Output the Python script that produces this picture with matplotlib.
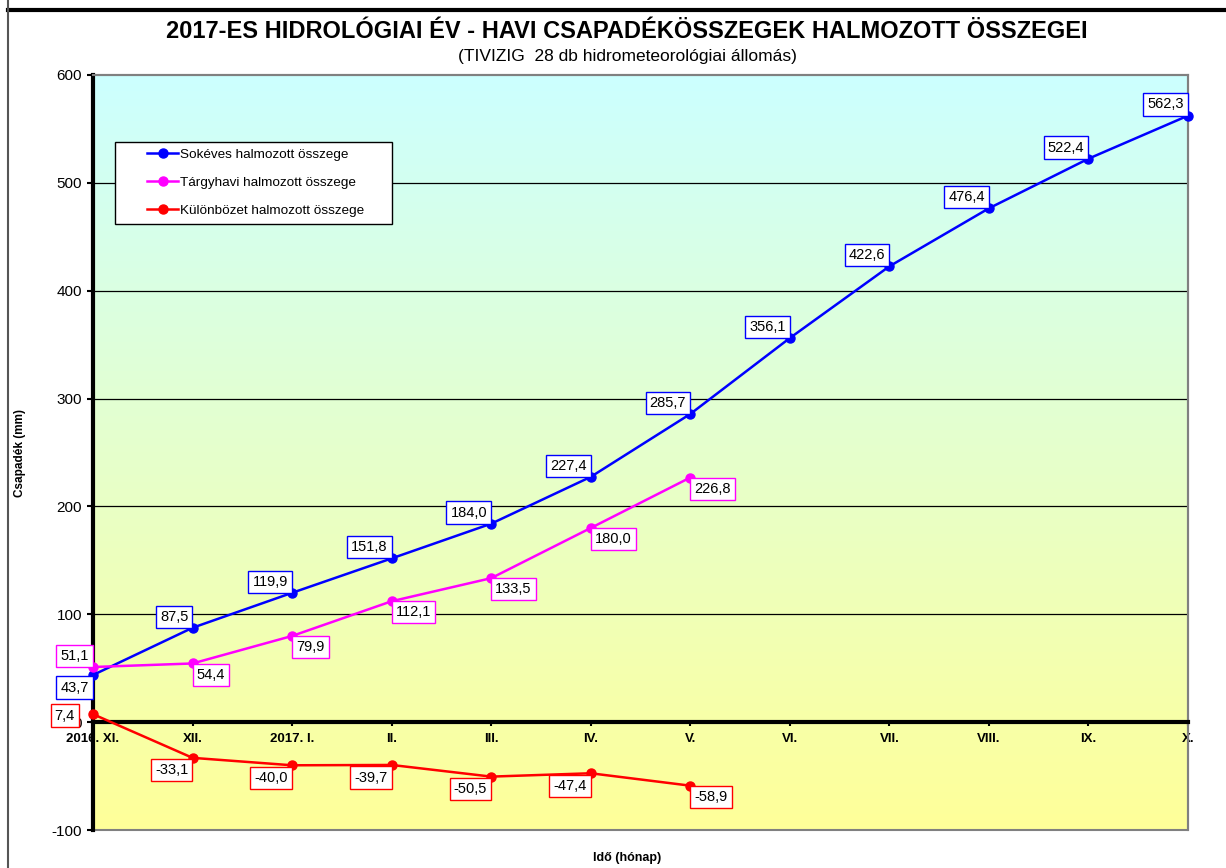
import numpy as np
import matplotlib
matplotlib.use("Agg")
import matplotlib.pyplot as plt
from matplotlib.lines import Line2D
from matplotlib.patches import Rectangle
from matplotlib.legend_handler import HandlerLine2D

plt.rcParams['font.family'] = ['Liberation Sans', 'DejaVu Sans']

months = ['2016. XI.', 'XII.', '2017. I.', 'II.', 'III.', 'IV.', 'V.',
          'VI.', 'VII.', 'VIII.', 'IX.', 'X.']
sokeves = [43.7, 87.5, 119.9, 151.8, 184.0, 227.4, 285.7, 356.1, 422.6, 476.4, 522.4, 562.3]
targyhavi = [51.1, 54.4, 79.9, 112.1, 133.5, 180.0, 226.8]
kulonbozet = [7.4, -33.1, -40.0, -39.7, -50.5, -47.4, -58.9]
yticks = [-100, 0, 100, 200, 300, 400, 500, 600]

# label placement per point: (dx, dy, ha, va)
above_left = (-3, 3, 'right', 'bottom')
below_left = (-3, -4, 'right', 'top')
below_right = (3, -3, 'left', 'top')
blue_pos = [below_left] + [above_left] * 11
pink_pos = [above_left] + [below_right] * 6
red_pos = [(-13, -1, 'right', 'center')] + [below_left] * 5 + [below_right]


def fmt(v):
    return f"{v:.1f}".replace('.', ',')


fig = plt.figure(figsize=(12.26, 8.68), dpi=100)
ax = fig.add_axes([93 / 1226, 38 / 868, 1095 / 1226, 755 / 868])

x_all = np.arange(len(months))
ax.set_xlim(0, len(months) - 1)
ax.set_ylim(-100, 600)

# gradient background cyan -> yellow
top = np.array([204, 255, 255]) / 255
bot = np.array([255, 255, 153]) / 255
t = np.linspace(0, 1, 256)[:, None]
grad = (top * (1 - t) + bot * t)[:, None, :]
ax.imshow(grad, extent=[0, len(months) - 1, -100, 600], aspect='auto', zorder=0)

for g in [100, 200, 300, 400, 500]:
    ax.axhline(g, color='black', lw=0.9, zorder=1)

series = [
    (sokeves, '#0000FF', 'Sokéves halmozott összege', blue_pos),
    (targyhavi, '#FF00FF', 'Tárgyhavi halmozott összege', pink_pos),
    (kulonbozet, '#FF0000', 'Különbözet halmozott összege', red_pos),
]
for vals, col, name, pos in series:
    xs = x_all[:len(vals)]
    ax.plot(xs, vals, color=col, lw=1.8, marker='o', ms=6.5, label=name,
            clip_on=False, zorder=4)
    for xi, v, (dx, dy, ha, va) in zip(xs, vals, pos):
        ax.annotate(fmt(v), (xi, v), xytext=(dx, dy), textcoords='offset points',
                    ha=ha, va=va, fontsize=10.5, zorder=6, annotation_clip=False,
                    bbox=dict(boxstyle='square,pad=0.28', fc='white', ec=col, lw=1))

# axes styling
for s in ['top', 'right']:
    ax.spines[s].set_color('#808080')
    ax.spines[s].set_linewidth(1.5)
ax.spines['left'].set_linewidth(3)
ax.spines['left'].set_color('black')
ax.spines['bottom'].set_position(('data', 0))
ax.spines['bottom'].set_linewidth(3)
ax.spines['bottom'].set_color('black')
ax.add_patch(Rectangle((0, 0), 1, 1, transform=ax.transAxes, fill=False,
                       ec='#808080', lw=1.5, zorder=2, clip_on=False))

ax.set_yticks(yticks)
ax.set_yticklabels([str(v) for v in yticks], fontsize=11)
ax.set_xticks(x_all)
ax.set_xticklabels(months, fontsize=9.5, fontweight='bold')
ax.tick_params(axis='y', length=4, width=1.5, pad=4)
ax.tick_params(axis='x', length=3, width=1.5, pad=5)

leg_fs = 9.7
leg = ax.legend(loc='upper left',
                bbox_to_anchor=(22 / 1095, 608 / 755, 277 / 1095, 80 / 755),
                mode='expand', fontsize=leg_fs,
                frameon=True, fancybox=False, edgecolor='black', framealpha=1,
                handlelength=4.2, handletextpad=0.1, labelspacing=1.15,
                borderpad=0.5, borderaxespad=0,
                handler_map={Line2D: HandlerLine2D(xpad=1.9)})
leg.get_frame().set_linewidth(1)
leg.set_zorder(7)

fig.text(627 / 1226, 1 - 32 / 868, '2017-ES HIDROLÓGIAI ÉV - HAVI CSAPADÉKÖSSZEGEK HALMOZOTT ÖSSZEGEI',
         ha='center', va='center', fontsize=17, fontweight='bold')
fig.text(627 / 1226, 1 - 57 / 868, '(TIVIZIG  28 db hidrometeorológiai állomás)',
         ha='center', va='center', fontsize=12.5)
fig.text(20 / 1226, 1 - 453 / 868, 'Csapadék (mm)', rotation=90, ha='center',
         va='center', fontsize=8.5, fontweight='bold')
fig.text(627 / 1226, 1 - 858 / 868, 'Idő (hónap)', ha='center', va='center',
         fontsize=9, fontweight='bold')

# outer frame lines
fig.add_artist(Line2D([8 / 1226, 1], [1 - 10 / 868] * 2, color='black', lw=3,
                      transform=fig.transFigure))
fig.add_artist(Line2D([8 / 1226] * 2, [0, 1], color='#555555', lw=1.5,
                      transform=fig.transFigure))

fig.savefig('out.png', dpi=100)
